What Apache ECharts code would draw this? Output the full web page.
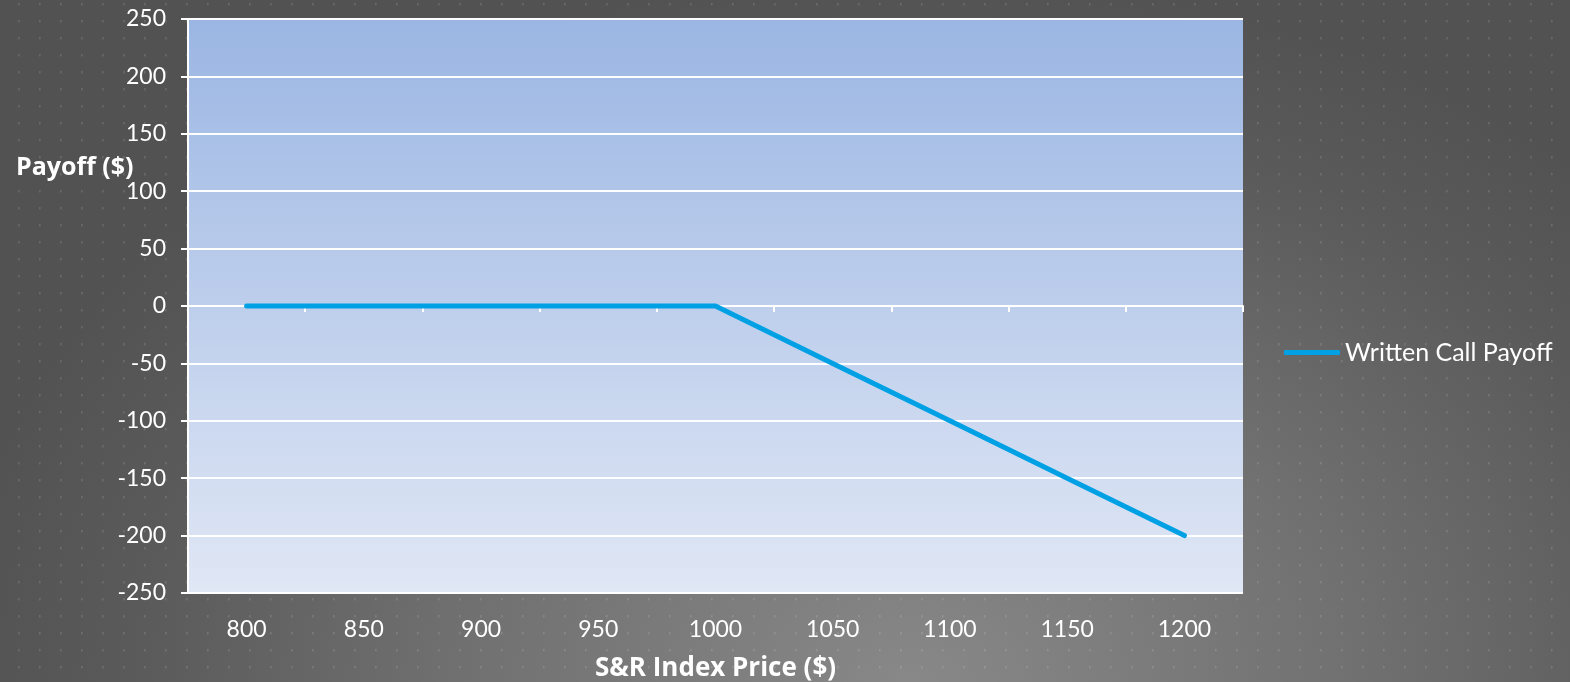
<!DOCTYPE html>
<html>
<head>
<meta charset="utf-8">
<script src="https://cdn.jsdelivr.net/npm/echarts@6/dist/echarts.min.js"></script>
<style>
  html, body { margin: 0; padding: 0; }
  body {
    width: 1570px; height: 682px; overflow: hidden;
    background-color: #5a5a5a;
    background-image:
      url("data:image/svg+xml;utf8,<svg xmlns='http://www.w3.org/2000/svg' width='21' height='17'><rect x='0' y='0' width='1.6' height='2.4' fill='rgba(255,255,255,0.13)'/></svg>"),
      radial-gradient(ellipse 62% 105% at 58% 100%, #888888 0%, #717171 45%, #5a5a5a 80%, #525252 100%),
      linear-gradient(90deg, #4a4a4a 0%, rgba(74,74,74,0) 25%, rgba(74,74,74,0) 80%, rgba(80,80,80,0.5) 100%);
    background-position: 18px 3px, 0 0, 0 0;
    background-repeat: repeat, no-repeat, no-repeat;
  }
  #chart { width: 1570px; height: 682px; }
</style>
</head>
<body>
<div id="chart"></div>
<script>
// S&R index prices at expiration
const prices = ['800', '850', '900', '950', '1000', '1050', '1100', '1150', '1200'];
// Payoff of the written call (strike 1000)
const writtenCallPayoff = [0, 0, 0, 0, 0, -50, -100, -150, -200];
// Payoff axis range
const payoffMin = -250;
const payoffMax = 250;
const payoffStep = 50;

const seriesName = 'Written Call Payoff';
const labelFont = 'Lato, "Open Sans", sans-serif';
const titleFont = '"Open Sans", Lato, sans-serif';

const chart = echarts.init(document.getElementById('chart'), null, { renderer: 'canvas' });

chart.setOption({
  backgroundColor: 'transparent',
  animation: false,
  grid: {
    left: 188, right: 327, top: 19, bottom: 89,
    show: true,
    borderWidth: 0,
    backgroundColor: new echarts.graphic.LinearGradient(0, 0, 0, 1, [
      { offset: 0, color: '#9bb6e3' },
      { offset: 1, color: '#e0e7f5' }
    ])
  },
  legend: {
    data: [seriesName],
    orient: 'vertical',
    left: 1284,
    top: 340,
    padding: 0,
    icon: 'roundRect',
    itemWidth: 56,
    itemHeight: 5,
    itemGap: 0,
    textStyle: { color: '#ffffff', fontSize: 25, fontFamily: labelFont, padding: [0, 0, 0, 0] }
  },
  xAxis: [
    {
      type: 'category',
      data: prices,
      boundaryGap: true,
      position: 'bottom',
      axisLine: { show: false, onZero: false },
      axisTick: { show: false },
      axisLabel: { color: '#ffffff', fontSize: 23, fontFamily: labelFont, margin: 25 },
      splitLine: { show: false }
    },
    {
      // axis line and ticks drawn along the zero payoff level
      type: 'category',
      data: prices,
      boundaryGap: true,
      position: 'bottom',
      axisLine: { show: true, onZero: true, lineStyle: { color: '#ffffff', width: 2 } },
      axisTick: { show: true, length: 6, lineStyle: { color: '#ffffff', width: 2 } },
      axisLabel: { show: false },
      splitLine: { show: false }
    }
  ],
  yAxis: {
    type: 'value',
    min: payoffMin,
    max: payoffMax,
    interval: payoffStep,
    axisLine: { show: true, lineStyle: { color: '#ffffff', width: 2 } },
    axisTick: { show: true, length: 7, lineStyle: { color: '#ffffff', width: 2 } },
    axisLabel: { color: '#ffffff', fontSize: 23, fontFamily: labelFont, margin: 22 },
    splitLine: { show: true, lineStyle: { color: '#ffffff', width: 2 } }
  },
  graphic: [
    {
      type: 'text',
      x: 16,
      y: 168,
      style: { text: 'Payoff ($)', fill: '#ffffff', font: 'bold 25px ' + titleFont, verticalAlign: 'middle' }
    },
    {
      type: 'text',
      x: 595,
      y: 669,
      style: { text: 'S&R Index Price ($)', fill: '#ffffff', font: 'bold 26px ' + titleFont, verticalAlign: 'middle' }
    }
  ],
  series: [
    {
      name: seriesName,
      type: 'line',
      xAxisIndex: 0,
      data: writtenCallPayoff,
      symbol: 'none',
      lineStyle: { color: '#00a0e4', width: 5, cap: 'round', join: 'round' },
      itemStyle: { color: '#00a0e4' }
    }
  ]
});
</script>
</body>
</html>
